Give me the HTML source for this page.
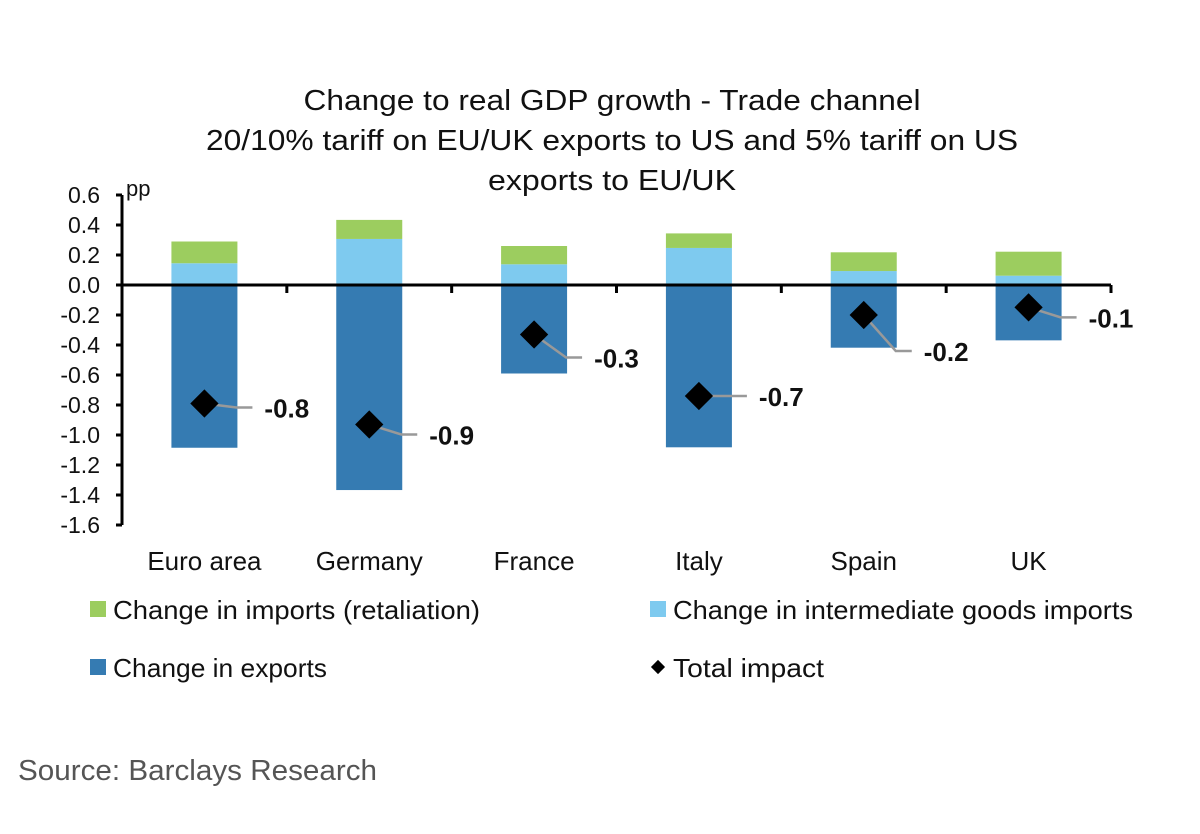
<!DOCTYPE html>
<html><head><meta charset="utf-8"><style>
body{margin:0;background:#fff;}
svg text{font-family:"Liberation Sans",sans-serif;}
</style></head><body>
<svg width="1200" height="829" viewBox="0 0 1200 829">
<g id="title" font-size="29" fill="#111" text-anchor="middle">
<text x="612" y="110" textLength="617" lengthAdjust="spacingAndGlyphs">Change to real GDP growth - Trade channel</text>
<text x="612" y="150" textLength="812" lengthAdjust="spacingAndGlyphs">20/10% tariff on EU/UK exports to US and 5% tariff on US</text>
<text x="612" y="190" textLength="248" lengthAdjust="spacingAndGlyphs">exports to EU/UK</text>
</g>
<text x="126" y="196" font-size="22" fill="#111">pp</text>
<g id="plot"></g>
<g font-size="26" fill="#111">
<rect x="90" y="601" width="16" height="16" fill="#9ccd5f"/>
<text x="113" y="619" textLength="367" lengthAdjust="spacingAndGlyphs">Change in imports (retaliation)</text>
<rect x="650" y="601" width="16" height="16" fill="#7ecaef"/>
<text x="673" y="619" textLength="460" lengthAdjust="spacingAndGlyphs">Change in intermediate goods imports</text>
<rect x="90" y="659" width="16" height="16" fill="#357bb2"/>
<text x="113" y="677" textLength="214" lengthAdjust="spacingAndGlyphs">Change in exports</text>
<rect x="653" y="662" width="10" height="10" fill="#000" transform="rotate(45 658 667)"/>
<text x="673" y="677" textLength="151" lengthAdjust="spacingAndGlyphs">Total impact</text>
</g>
<text x="18" y="780" font-size="29" fill="#555" textLength="359" lengthAdjust="spacingAndGlyphs">Source: Barclays Research</text>
</svg>
<script>
const categories=["Euro area","Germany","France","Italy","Spain","UK"];
const retaliation=[0.145,0.127,0.122,0.097,0.125,0.16];
const intermediate=[0.145,0.307,0.138,0.247,0.093,0.062];
const exportsChg=[-1.085,-1.367,-0.59,-1.082,-0.418,-0.369];
const total=[-0.79,-0.93,-0.33,-0.74,-0.2,-0.149];
const totalLabels=["-0.8","-0.9","-0.3","-0.7","-0.2","-0.1"];
const yTicks=[0.6,0.4,0.2,0,-0.2,-0.4,-0.6,-0.8,-1.0,-1.2,-1.4,-1.6];
const NS="http://www.w3.org/2000/svg";
const plot=document.getElementById('plot');
const X0=122,X1=1111,Y0=285,PX=150;
const bw=(X1-X0)/categories.length;
const y=v=>Y0-v*PX;
const xc=i=>X0+bw*(i+0.5);
function mk(t,a){const e=document.createElementNS(NS,t);for(const k in a)e.setAttribute(k,a[k]);plot.appendChild(e);return e;}
categories.forEach((c,i)=>{
 const w=66,x=xc(i)-w/2;
 let r=mk('rect',{x:x,y:y(intermediate[i]),width:w,height:intermediate[i]*PX,fill:'#7ecaef'});
 
 
 r=mk('rect',{x:x,y:y(intermediate[i]+retaliation[i]),width:w,height:retaliation[i]*PX,fill:'#9ccd5f'});
 
 
 r=mk('rect',{x:x,y:Y0,width:w,height:-exportsChg[i]*PX,fill:'#357bb2'});
 
 
 const t=mk('text',{x:xc(i),y:570,'font-size':26,'text-anchor':'middle',fill:'#111'});
 t.textContent=c;
 
 
});
let ax=mk('line',{x1:X0,y1:y(0.6),x2:X0,y2:y(-1.6),stroke:'#000','stroke-width':3});


yTicks.forEach(v=>{
 mk('line',{x1:X0-6,y1:y(v),x2:X0,y2:y(v),stroke:'#000','stroke-width':3});
 const t=mk('text',{x:X0-22,y:y(v)+8,'font-size':23,'text-anchor':'end',fill:'#111'});
 t.textContent=v.toFixed(1);
 
 
});
ax=mk('line',{x1:X0,y1:Y0,x2:X1,y2:Y0,stroke:'#000','stroke-width':3});


for(let i=1;i<=categories.length;i++)mk('line',{x1:X0+bw*i,y1:Y0,x2:X0+bw*i,y2:Y0+8,stroke:'#000','stroke-width':3});
total.forEach((v,i)=>{
 const cx=xc(i),cy=y(v);
 const dy=[4,10,23,0,36,10][i];
 const lx=cx+48,ly=cy+dy;
 mk('polyline',{points:`${cx},${cy} ${lx-16},${ly} ${lx},${ly}`,fill:'none',stroke:'#999','stroke-width':2.5});
 const d=mk('rect',{x:cx-10,y:cy-10,width:20,height:20,fill:'#000',transform:`rotate(45 ${cx} ${cy})`});
 
 
 const t=mk('text',{x:lx+12,y:ly+10,'font-size':26,'font-weight':'bold',fill:'#111'});
 t.textContent=totalLabels[i];
 
 
});
</script>
</body></html>
